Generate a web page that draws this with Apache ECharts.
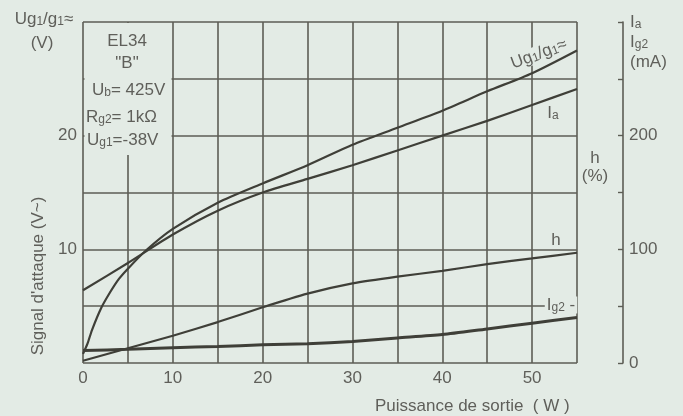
<!DOCTYPE html>
<html><head><meta charset="utf-8">
<script src="https://cdn.jsdelivr.net/npm/echarts@6/dist/echarts.min.js"></script>
<style>html,body{margin:0;padding:0;background:#e3ebe5;}#c{width:683px;height:416px;}</style>
</head><body><div id="c"></div>
<script>
// ---- data ----
const ugPower = [0, 0.5, 1, 2, 3, 4, 5, 7, 10, 15, 20, 25, 30, 35, 40, 45, 50, 55];
const ugVolts = [0.8, 1.7, 2.9, 4.8, 6.2, 7.4, 8.3, 9.9, 11.8, 14.1, 15.8, 17.4, 19.2, 20.7, 22.2, 23.9, 25.5, 27.5];
const iaPower = [0, 5, 10, 15, 20, 25, 30, 35, 40, 45, 50, 55];
const iaMilliamps = [64, 88, 113, 134, 150, 162, 174, 187, 200, 213, 227, 241];
const hPower = [0, 5, 10, 15, 20, 25, 30, 35, 40, 45, 50, 55];
const hPercent = [0.2, 1.3, 2.4, 3.6, 4.9, 6.1, 7.0, 7.6, 8.1, 8.7, 9.2, 9.7];
const ig2Power = [0, 5, 10, 15, 20, 25, 30, 35, 40, 45, 50, 55];
const ig2Milliamps = [11, 12, 13.5, 14.5, 16, 17, 19, 22, 25, 30, 35, 40];
const xTickLabels = [0, 10, 20, 30, 40, 50];
const leftTickLabels = [10, 20];
const rightTickLabels = [0, 100, 200];

const pairs = (xs, ys) => xs.map((x, i) => [x, ys[i]]);

const bg = '#e3ebe5';
const ink = '#3f3f38';
const gridInk = '#5d5d55';
const textInk = '#5f5f5a';
const FONT = 'Liberation Sans';
const FS = 17;

const chart = echarts.init(document.getElementById('c'), null, {renderer: 'canvas'});

const lbl = {color: textInk, fontSize: FS, fontFamily: FONT};
const richMain = {fontSize: FS, fontFamily: FONT, fill: textInk, color: textInk};
const richSub = {fontSize: 12, fontFamily: FONT, fill: textInk, color: textInk, padding: [5, 0, 0, 0]};

function txt(text, x, y, align, extra) {
  return Object.assign({
    type: 'text', x: x, y: y, z: 10,
    style: {text: text, x: 0, y: 0, fill: textInk, font: FS + 'px "' + FONT + '"',
      align: align || 'center', verticalAlign: 'middle',
      rich: {m: richMain, s: richSub}}
  }, extra || {});
}

const lineStyleFor = w => ({color: ink, width: w});

const option = {
  backgroundColor: bg,
  animation: false,
  grid: {left: 83, right: 106, top: 22, bottom: 53, containLabel: false, outerBoundsMode: 'none'},
  xAxis: {
    type: 'value', min: 0, max: 55, interval: 5,
    axisLine: {show: false}, axisTick: {show: false},
    splitLine: {show: true, lineStyle: {color: gridInk, width: 1.6}},
    axisLabel: Object.assign({margin: 7, formatter: v => xTickLabels.includes(v) ? String(v) : ''}, lbl)
  },
  yAxis: [
    {
      type: 'value', min: 0, max: 30, interval: 5, position: 'left',
      axisLine: {show: false}, axisTick: {show: false},
      splitLine: {show: true, lineStyle: {color: gridInk, width: 1.6}},
      axisLabel: Object.assign({margin: 6, formatter: v => leftTickLabels.includes(v) ? String(v) : ''}, lbl)
    },
    {
      type: 'value', min: 0, max: 300, interval: 50, position: 'right', offset: 46,
      axisLine: {show: true, lineStyle: {color: gridInk, width: 1.6}},
      axisTick: {show: true, inside: true, length: 5, lineStyle: {color: gridInk, width: 1.4}},
      splitLine: {show: false},
      axisLabel: Object.assign({margin: 6, formatter: v => rightTickLabels.includes(v) ? String(v) : ''}, lbl)
    }
  ],
  series: [
    {name: 'Ug1/g1', type: 'line', yAxisIndex: 0, data: pairs(ugPower, ugVolts),
      smooth: 0.25, showSymbol: false, lineStyle: lineStyleFor(2.2)},
    {name: 'Ia', type: 'line', yAxisIndex: 1, data: pairs(iaPower, iaMilliamps),
      smooth: 0.25, showSymbol: false, lineStyle: lineStyleFor(2.2)},
    {name: 'h', type: 'line', yAxisIndex: 0, data: pairs(hPower, hPercent),
      smooth: 0.25, showSymbol: false, lineStyle: lineStyleFor(2.2)},
    {name: 'Ig2', type: 'line', yAxisIndex: 1, data: pairs(ig2Power, ig2Milliamps),
      smooth: 0.25, showSymbol: false, lineStyle: lineStyleFor(3)}
  ],
  graphic: [
    {type: 'rect', z: 5, shape: {x: 84.5, y: 23, width: 87, height: 132}, style: {fill: bg}},
    txt('{m|Ug}{s|1}{m|/g}{s|1}{m|≈}', 44, 19),
    txt('(V)', 42, 43),
    txt('EL34', 127, 41),
    txt('"B"', 127, 63),
    txt('{m|U}{s|b}{m|= 425V}', 92, 90, 'left'),
    txt('{m|R}{s|g2}{m|= 1kΩ}', 86, 117, 'left'),
    txt('{m|U}{s|g1}{m|=-38V}', 87, 140, 'left'),
    txt("Signal d'attaque (V~)", 38, 276, 'center', {rotation: Math.PI / 2}),
    txt('Puissance de sortie  ( W )', 375, 406, 'left'),
    txt('{m|I}{s|a}', 630, 22, 'left'),
    txt('{m|I}{s|g2}', 630, 42, 'left'),
    txt('(mA)', 630, 62, 'left'),
    txt('h', 595, 158),
    txt('(%)', 595, 176),
    txt('', 539, 54, 'center', {rotation: 0.36,
      style: {text: '{m|Ug}{s|1}{m|/g}{s|1}{m|≈}', x: 0, y: 0, fill: textInk, align: 'center', verticalAlign: 'middle',
        backgroundColor: bg, padding: [0, 2], rich: {m: richMain, s: richSub}}}),
    txt('{m|I}{s|a}', 553, 113),
    txt('h', 556, 240),
    txt('', 561, 305, 'center', {
      style: {text: '{m|I}{s|g2}{m| -}', x: 0, y: 0, fill: textInk, align: 'center', verticalAlign: 'middle',
        backgroundColor: bg, padding: [0, 2], rich: {m: richMain, s: richSub}}})
  ]
};
chart.setOption(option);
</script>
</body></html>
